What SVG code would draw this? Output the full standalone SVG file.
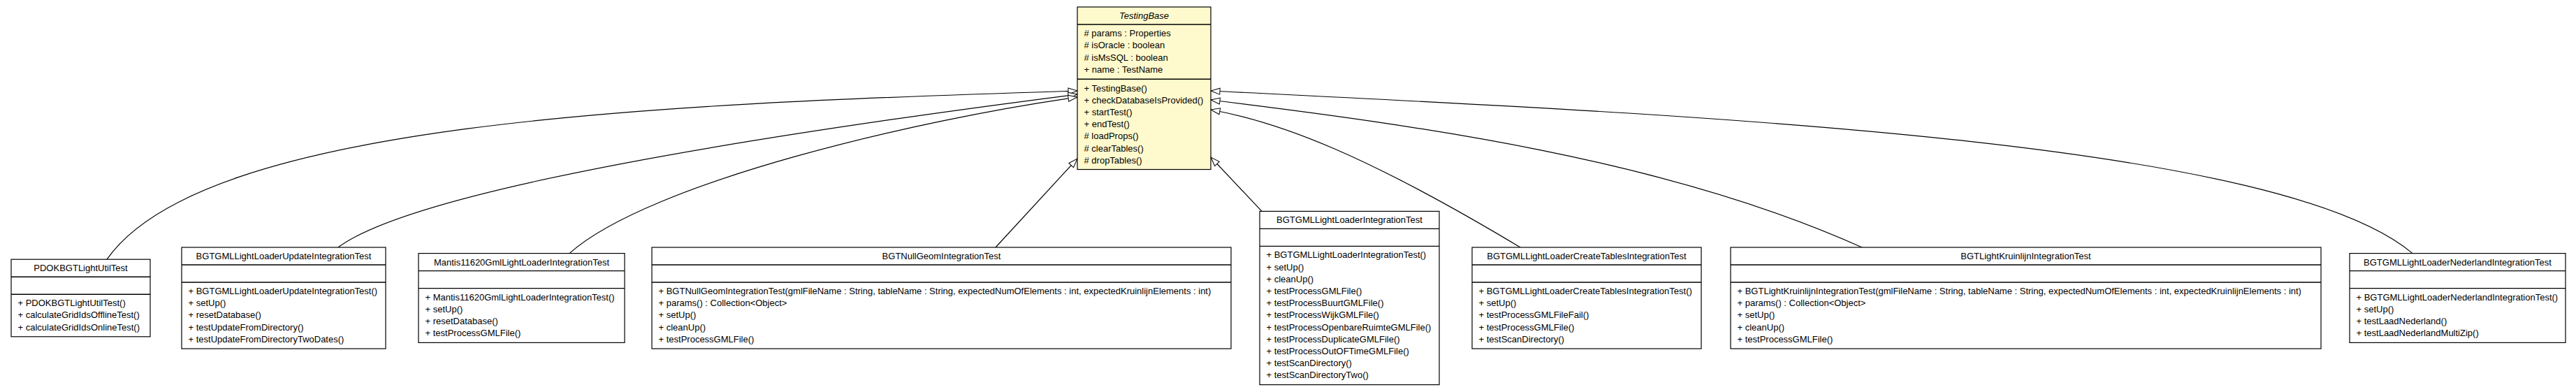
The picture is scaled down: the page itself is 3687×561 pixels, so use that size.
<svg xmlns="http://www.w3.org/2000/svg" width="3687" height="561" viewBox="0 0 3687 561">
<style>
.bg{fill:#fff}
.box{fill:#fff;stroke:#000;stroke-width:1.2}
.base{fill:#FFFACD;stroke:#000;stroke-width:1.2}
.sep{stroke:#000;stroke-width:1.4}
text{font-family:"Liberation Sans",Arial,Helvetica,sans-serif;font-size:13px;fill:#000}
.t{text-anchor:middle}
.it{font-style:italic}
.edge{fill:none;stroke:#000;stroke-width:1.2;marker-end:url(#inh)}
</style>
<defs>
<marker id="inh" markerWidth="14" markerHeight="10" refX="13" refY="4.5" orient="auto" markerUnits="userSpaceOnUse" overflow="visible">
<path d="M0,0 L13,4.5 L0,9 Z" fill="#fff" stroke="#000" stroke-width="1"/>
</marker>
</defs>
<rect class="bg" x="0" y="0" width="3687" height="561"/>

<g id="connectors">
<path class="edge" d="M153,371.2 C290,175 930,149 1542,130"/>
<path class="edge" d="M484,354 C610,260 1230,175 1542,135"/>
<path class="edge" d="M815,362.6 C930,260 1320,170 1542,139"/>
<path class="edge" d="M1425,354 L1542,227"/>
<path class="edge" d="M1806,302.4 L1733,225"/>
<path class="edge" d="M2176,354 C1956,222 1833,175 1733,157"/>
<path class="edge" d="M2665,354 C2385,228 2033,180 1733,143"/>
<path class="edge" d="M3453,362.6 C3260,200 2433,165 1733,130"/>
</g>

<g id="TestingBase">
<rect class="base" x="1542" y="10" width="191" height="232.5"/>
<line class="sep" x1="1542" y1="35" x2="1733" y2="35"/>
<line class="sep" x1="1542" y1="113.3" x2="1733" y2="113.3"/>
<text class="t it" x="1637.5" y="27">TestingBase</text>
<text x="1551.5" y="52.2"># params : Properties</text>
<text x="1551.5" y="69.4"># isOracle : boolean</text>
<text x="1551.5" y="86.6"># isMsSQL : boolean</text>
<text x="1551.5" y="103.8">+ name : TestName</text>
<text x="1551.5" y="130.5">+ TestingBase()</text>
<text x="1551.5" y="147.7">+ checkDatabaseIsProvided()</text>
<text x="1551.5" y="164.9">+ startTest()</text>
<text x="1551.5" y="182.1">+ endTest()</text>
<text x="1551.5" y="199.3"># loadProps()</text>
<text x="1551.5" y="216.5"># clearTables()</text>
<text x="1551.5" y="233.7"># dropTables()</text>
</g>

<g id="PDOKBGTLightUtilTest">
<rect class="box" x="16" y="371.2" width="199" height="110.6"/>
<line class="sep" x1="16" y1="396.2" x2="215" y2="396.2"/>
<line class="sep" x1="16" y1="421.2" x2="215" y2="421.2"/>
<text class="t" x="115.5" y="388.2">PDOKBGTLightUtilTest</text>
<text x="25.5" y="438.2">+ PDOKBGTLightUtilTest()</text>
<text x="25.5" y="455.4">+ calculateGridIdsOfflineTest()</text>
<text x="25.5" y="472.6">+ calculateGridIdsOnlineTest()</text>
</g>

<g id="BGTGMLLightLoaderUpdateIntegrationTest">
<rect class="box" x="260" y="354" width="292" height="145"/>
<line class="sep" x1="260" y1="379" x2="552" y2="379"/>
<line class="sep" x1="260" y1="404" x2="552" y2="404"/>
<text class="t" x="406" y="371">BGTGMLLightLoaderUpdateIntegrationTest</text>
<text x="269.5" y="421">+ BGTGMLLightLoaderUpdateIntegrationTest()</text>
<text x="269.5" y="438.2">+ setUp()</text>
<text x="269.5" y="455.4">+ resetDatabase()</text>
<text x="269.5" y="472.6">+ testUpdateFromDirectory()</text>
<text x="269.5" y="489.8">+ testUpdateFromDirectoryTwoDates()</text>
</g>

<g id="Mantis11620GmlLightLoaderIntegrationTest">
<rect class="box" x="599" y="362.6" width="295" height="127.8"/>
<line class="sep" x1="599" y1="387.6" x2="894" y2="387.6"/>
<line class="sep" x1="599" y1="412.6" x2="894" y2="412.6"/>
<text class="t" x="746.5" y="379.6">Mantis11620GmlLightLoaderIntegrationTest</text>
<text x="608.5" y="429.6">+ Mantis11620GmlLightLoaderIntegrationTest()</text>
<text x="608.5" y="446.8">+ setUp()</text>
<text x="608.5" y="464">+ resetDatabase()</text>
<text x="608.5" y="481.2">+ testProcessGMLFile()</text>
</g>

<g id="BGTNullGeomIntegrationTest">
<rect class="box" x="933" y="354" width="829" height="145"/>
<line class="sep" x1="933" y1="379" x2="1762" y2="379"/>
<line class="sep" x1="933" y1="404" x2="1762" y2="404"/>
<text class="t" x="1347.5" y="371">BGTNullGeomIntegrationTest</text>
<text x="942.5" y="421">+ BGTNullGeomIntegrationTest(gmlFileName : String, tableName : String, expectedNumOfElements : int, expectedKruinlijnElements : int)</text>
<text x="942.5" y="438.2">+ params() : Collection&lt;Object&gt;</text>
<text x="942.5" y="455.4">+ setUp()</text>
<text x="942.5" y="472.6">+ cleanUp()</text>
<text x="942.5" y="489.8">+ testProcessGMLFile()</text>
</g>

<g id="BGTGMLLightLoaderIntegrationTest">
<rect class="box" x="1803" y="302.4" width="257" height="248.2"/>
<line class="sep" x1="1803" y1="327.4" x2="2060" y2="327.4"/>
<line class="sep" x1="1803" y1="352.4" x2="2060" y2="352.4"/>
<text class="t" x="1931.5" y="319.4">BGTGMLLightLoaderIntegrationTest</text>
<text x="1812.5" y="369.4">+ BGTGMLLightLoaderIntegrationTest()</text>
<text x="1812.5" y="386.6">+ setUp()</text>
<text x="1812.5" y="403.8">+ cleanUp()</text>
<text x="1812.5" y="421">+ testProcessGMLFile()</text>
<text x="1812.5" y="438.2">+ testProcessBuurtGMLFile()</text>
<text x="1812.5" y="455.4">+ testProcessWijkGMLFile()</text>
<text x="1812.5" y="472.6">+ testProcessOpenbareRuimteGMLFile()</text>
<text x="1812.5" y="489.8">+ testProcessDuplicateGMLFile()</text>
<text x="1812.5" y="507">+ testProcessOutOFTimeGMLFile()</text>
<text x="1812.5" y="524.2">+ testScanDirectory()</text>
<text x="1812.5" y="541.4">+ testScanDirectoryTwo()</text>
</g>

<g id="BGTGMLLightLoaderCreateTablesIntegrationTest">
<rect class="box" x="2107" y="354" width="328" height="145"/>
<line class="sep" x1="2107" y1="379" x2="2435" y2="379"/>
<line class="sep" x1="2107" y1="404" x2="2435" y2="404"/>
<text class="t" x="2271" y="371">BGTGMLLightLoaderCreateTablesIntegrationTest</text>
<text x="2116.5" y="421">+ BGTGMLLightLoaderCreateTablesIntegrationTest()</text>
<text x="2116.5" y="438.2">+ setUp()</text>
<text x="2116.5" y="455.4">+ testProcessGMLFileFail()</text>
<text x="2116.5" y="472.6">+ testProcessGMLFile()</text>
<text x="2116.5" y="489.8">+ testScanDirectory()</text>
</g>

<g id="BGTLightKruinlijnIntegrationTest">
<rect class="box" x="2477" y="354" width="845" height="145"/>
<line class="sep" x1="2477" y1="379" x2="3322" y2="379"/>
<line class="sep" x1="2477" y1="404" x2="3322" y2="404"/>
<text class="t" x="2899.5" y="371">BGTLightKruinlijnIntegrationTest</text>
<text x="2486.5" y="421">+ BGTLightKruinlijnIntegrationTest(gmlFileName : String, tableName : String, expectedNumOfElements : int, expectedKruinlijnElements : int)</text>
<text x="2486.5" y="438.2">+ params() : Collection&lt;Object&gt;</text>
<text x="2486.5" y="455.4">+ setUp()</text>
<text x="2486.5" y="472.6">+ cleanUp()</text>
<text x="2486.5" y="489.8">+ testProcessGMLFile()</text>
</g>

<g id="BGTGMLLightLoaderNederlandIntegrationTest">
<rect class="box" x="3363" y="362.6" width="309" height="127.8"/>
<line class="sep" x1="3363" y1="387.6" x2="3672" y2="387.6"/>
<line class="sep" x1="3363" y1="412.6" x2="3672" y2="412.6"/>
<text class="t" x="3517.5" y="379.6">BGTGMLLightLoaderNederlandIntegrationTest</text>
<text x="3372.5" y="429.6">+ BGTGMLLightLoaderNederlandIntegrationTest()</text>
<text x="3372.5" y="446.8">+ setUp()</text>
<text x="3372.5" y="464">+ testLaadNederland()</text>
<text x="3372.5" y="481.2">+ testLaadNederlandMultiZip()</text>
</g>
</svg>
